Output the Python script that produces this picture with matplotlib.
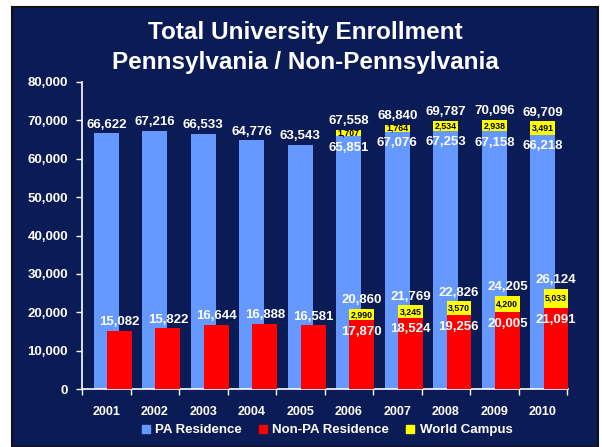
import matplotlib.pyplot as plt
import matplotlib.patches as patches
from matplotlib.lines import Line2D
from matplotlib.ticker import FuncFormatter

plt.rcParams['font.family'] = ['Liberation Sans', 'DejaVu Sans']

years = ['2001', '2002', '2003', '2004', '2005', '2006', '2007', '2008', '2009', '2010']
pa_res = [66622, 67216, 66533, 64776, 63543, 65851, 67076, 67253, 67158, 66218]
non_pa = [15082, 15822, 16644, 16888, 16581, 17870, 18524, 19256, 20005, 21091]
wc_pa = [0, 0, 0, 0, 0, 1707, 1764, 2534, 2938, 3491]
wc_non_pa = [0, 0, 0, 0, 0, 2990, 3245, 3570, 4200, 5033]

navy = '#0b1b55'
blue = '#6699ff'
red = '#ff0000'
yellow = '#ffff00'

fig = plt.figure(figsize=(6.02, 4.47), dpi=100)
fig.patch.set_facecolor('white')
bg = patches.Rectangle((12 / 602, 0), 586 / 602, 440 / 447, transform=fig.transFigure,
                       facecolor=navy, edgecolor='#111111', linewidth=1.5, zorder=-10)
fig.patches.append(bg)

ax = fig.add_axes([82 / 602, 1 - 389 / 447, 486 / 602, 307 / 447])
ax.set_zorder(1)
ax.patch.set_alpha(0)

x = list(range(len(years)))
off = 0.27
w = 0.51
xr = [i + off for i in x]

ax.bar(x, pa_res, width=w, color=blue, zorder=2)
ax.bar(x, wc_pa, width=w, bottom=pa_res, color=yellow, zorder=2)
ax.bar(xr, non_pa, width=w, color=red, zorder=3)
ax.bar(xr, wc_non_pa, width=w, bottom=non_pa, color=yellow, zorder=3)

lab = dict(color='white', fontweight='bold', fontsize=9.5, ha='center')
small = dict(color='black', fontweight='bold', fontsize=6.3, ha='center', va='center')
for i in x:
    for xx, base, extra in ((x[i], pa_res[i], wc_pa[i]), (xr[i], non_pa[i], wc_non_pa[i])):
        total = base + extra
        ax.annotate(f'{total:,}', (xx, total), xytext=(0, 2), textcoords='offset points',
                    va='bottom', zorder=5, **lab)
        if extra:
            ax.annotate(f'{base:,}', (xx, base), xytext=(0, -4), textcoords='offset points',
                        va='top', zorder=5, **lab)
            ax.text(xx, base + extra / 2, f'{extra:,}', zorder=5, **small)

ax.set_xlim(-0.5, 9.52)
ax.set_ylim(0, 80000)
ax.set_yticks(range(0, 80001, 10000))
ax.yaxis.set_major_formatter(FuncFormatter(lambda v, p: f'{int(v):,}'))
ax.set_xticks([i + 0.5 for i in range(-1, 10)])
ax.set_xticklabels([])
ax.set_xticks(x, minor=True)
ax.set_xticklabels(years, minor=True)
ax.tick_params(axis='x', which='minor', length=0, pad=12, colors='white', labelsize=9)
ax.tick_params(axis='x', which='major', length=4, color='white', width=1)
ax.tick_params(axis='y', length=4, color='white', width=1, colors='white', labelsize=9.5, pad=6)
for t in ax.get_xticklabels(minor=True) + ax.get_yticklabels():
    t.set_fontweight('bold')
for s in ('top', 'right'):
    ax.spines[s].set_visible(False)
for s in ('left', 'bottom'):
    ax.spines[s].set_color('white')
    ax.spines[s].set_linewidth(1.2)

fig.text(0.507, 1 - 33 / 447, 'Total University Enrollment', color='white', fontweight='bold',
         fontsize=17.5, ha='center', va='center')
fig.text(0.507, 1 - 63 / 447, 'Pennsylvania / Non-Pennsylvania', color='white', fontweight='bold',
         fontsize=17.5, ha='center', va='center')

handles = [Line2D([], [], marker='s', linestyle='', markersize=6, color=c) for c in (blue, red, yellow)]
leg = fig.legend(handles, ['PA Residence', 'Non-PA Residence', 'World Campus'], loc='center',
                 bbox_to_anchor=(326 / 602, 1 - 430 / 447), ncol=3, frameon=False,
                 handletextpad=0.2, columnspacing=1.1, handlelength=1.0,
                 prop={'weight': 'bold', 'size': 9.5})
for t in leg.get_texts():
    t.set_color('white')

fig.savefig('out.png', dpi=100, facecolor=fig.get_facecolor())
